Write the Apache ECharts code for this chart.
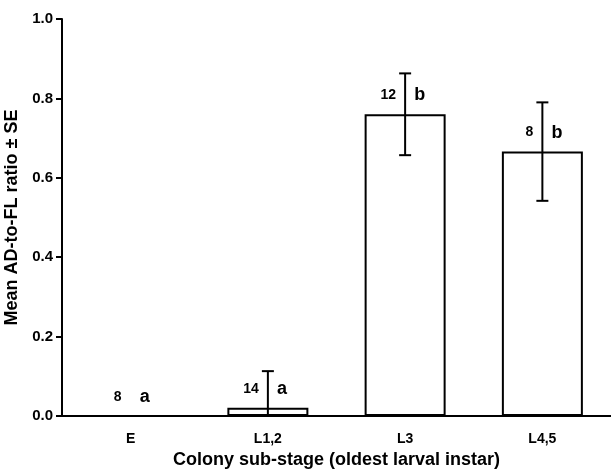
<!DOCTYPE html>
<html>
<head>
<meta charset="utf-8">
<script src="https://cdn.jsdelivr.net/npm/echarts@6/dist/echarts.min.js"></script>
<style>
  html, body { margin: 0; padding: 0; background: #fff; }
  #chart { width: 611px; height: 470px; }
</style>
</head>
<body>
<div id="chart"></div>
<script>
// Colony sub-stages on the x axis
var categories = ['E', 'L1,2', 'L3', 'L4,5'];
// Mean AD-to-FL ratio per sub-stage and its standard error
var meanRatio = [0, 0.021, 0.760, 0.666];
var stdError = [0, 0.092, 0.103, 0.124];
// Sample sizes and significance groups shown beside each error bar
var sampleSizes = ['8', '14', '12', '8'];
var groupLetters = ['a', 'a', 'b', 'b'];
// Y axis range
var yMin = 0, yMax = 1, yStep = 0.2;

var FONT = '"Liberation Sans", Arial, sans-serif';

var errData = categories.map(function (c, i) {
  return [i, meanRatio[i], stdError[i], sampleSizes[i], groupLetters[i]];
});

function renderError(params, api) {
  var idx = api.value(0);
  var mean = api.value(1);
  var se = api.value(2);
  var center = api.coord([idx, mean]);
  var children = [];
  var capHalf = 6;
  if (se > 0) {
    var hi = api.coord([idx, mean + se]);
    var lo = api.coord([idx, Math.max(yMin, mean - se)]);
    var st = { stroke: '#000', lineWidth: 2 };
    children.push({ type: 'line', shape: { x1: center[0], y1: hi[1], x2: center[0], y2: lo[1] }, style: st });
    children.push({ type: 'line', shape: { x1: center[0] - capHalf, y1: hi[1], x2: center[0] + capHalf, y2: hi[1] }, style: st });
    if (mean - se > yMin) {
      children.push({ type: 'line', shape: { x1: center[0] - capHalf, y1: lo[1], x2: center[0] + capHalf, y2: lo[1] }, style: st });
    }
  }
  var ty = center[1] - 19;
  children.push({
    type: 'text',
    style: {
      x: center[0] - 9, y: ty, text: sampleSizes[params.dataIndex],
      align: 'right', verticalAlign: 'middle',
      font: 'bold 14px ' + FONT, fill: '#000'
    }
  });
  children.push({
    type: 'text',
    style: {
      x: center[0] + 9, y: ty, text: groupLetters[params.dataIndex],
      align: 'left', verticalAlign: 'middle',
      font: 'bold 18px ' + FONT, fill: '#000'
    }
  });
  return { type: 'group', children: children };
}

var chart = echarts.init(document.getElementById('chart'), null, { renderer: 'canvas' });
chart.setOption({
  animation: false,
  backgroundColor: '#fff',
  grid: { left: 62, right: 0, top: 19, bottom: 54, containLabel: false, outerBoundsMode: 'none' },
  xAxis: {
    type: 'category',
    data: categories,
    name: 'Colony sub-stage (oldest larval instar)',
    nameLocation: 'middle',
    nameGap: 35,
    nameTextStyle: { fontFamily: FONT, fontWeight: 'bold', fontSize: 18, color: '#000' },
    axisLine: { lineStyle: { color: '#000', width: 2 } },
    axisTick: { alignWithLabel: true, length: 6, lineStyle: { color: '#000', width: 2 } },
    axisLabel: { fontFamily: FONT, fontWeight: 'bold', fontSize: 14, color: '#000', margin: 16 },
    splitLine: { show: false }
  },
  yAxis: {
    type: 'value',
    min: yMin, max: yMax, interval: yStep,
    name: 'Mean AD-to-FL ratio \u00b1 SE',
    nameLocation: 'middle',
    nameGap: 36,
    nameRotate: 90,
    nameTextStyle: { fontFamily: FONT, fontWeight: 'bold', fontSize: 18, color: '#000' },
    axisLine: { show: true, lineStyle: { color: '#000', width: 2 } },
    axisTick: { show: true, length: 6, lineStyle: { color: '#000', width: 2 } },
    axisLabel: {
      fontFamily: FONT, fontWeight: 'bold', fontSize: 15, color: '#000', margin: 9,
      formatter: function (v) { return v.toFixed(1); }
    },
    splitLine: { show: false }
  },
  series: [
    {
      type: 'bar',
      data: meanRatio,
      barWidth: 81,
      itemStyle: { color: '#fff', borderColor: '#000', borderWidth: 2 },
      z: 2
    },
    {
      type: 'custom',
      data: errData,
      renderItem: renderError,
      encode: { x: 0, y: 1 },
      clip: false,
      z: 3
    }
  ]
});
</script>
</body>
</html>
